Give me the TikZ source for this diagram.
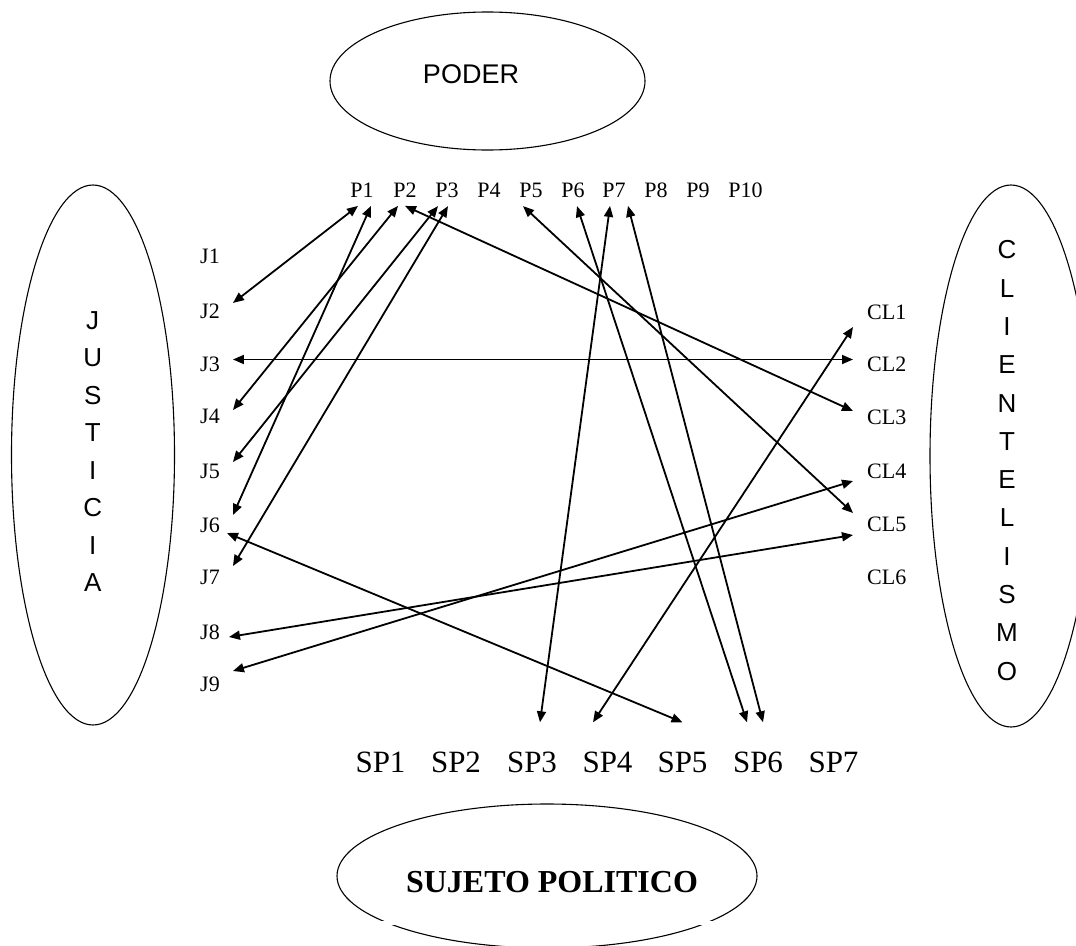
\documentclass[tikz,border=0pt]{standalone}
\usepackage{fontspec}
\setmainfont{Liberation Serif}
\newfontfamily\arialf{Liberation Sans}
\usetikzlibrary{shapes.geometric,arrows.meta}
\begin{document}
\begin{tikzpicture}[x=1pt,y=-1pt,
  ell/.style={draw, ellipse, line width=1.1pt, inner sep=0pt},
  lbl/.style={inner sep=0pt, font=\fontsize{22}{26}\selectfont},
  splbl/.style={inner sep=0pt, font=\fontsize{31}{36}\selectfont},
  vert/.style={inner sep=0pt, align=center},
  arr/.style={{Triangle[length=11pt,width=9pt]}-{Triangle[length=11pt,width=9pt]}, line width=1.8pt},
]
\useasboundingbox (0,0) rectangle (1076,945);
\clip (0,0) rectangle (1076,945);

% ellipses
\node[ell, minimum width=315pt, minimum height=138pt] (poder) at (487.5,81) {};
\node[ell, minimum width=163pt, minimum height=540pt] (just) at (93,455) {};
\node[ell, minimum width=162pt, minimum height=542pt] (clien) at (1011,456) {};
\node[ell, minimum width=420pt, minimum height=144pt] (sujeto) at (547,876) {};
\fill[white] (375,920.5) rectangle (730,924.5);

% titles
\node[inner sep=0pt, font=\arialf\fontsize{27}{30}\selectfont] (podert) at (471,74.5) {PODER};
\node[vert, font=\arialf\fontsize{26}{37.5}\selectfont] (justt) at (92.7,451.5) {J\\U\\S\\T\\I\\C\\I\\A};
\node[vert, font=\arialf\fontsize{26}{38.3}\selectfont] (client) at (1007,460.5) {C\\L\\I\\E\\N\\T\\E\\L\\I\\S\\M\\O};
\node[inner sep=0pt, font=\bfseries\fontsize{32}{36}\selectfont] (sujt) at (552,882) {SUJETO POLITICO};

% labels
\foreach \n/\xx in {1/362,2/405,3/447,4/489,5/531,6/573,7/614,8/656,9/698,10/745.5}
  \node[lbl, anchor=base] (P\n) at (\xx,197.7) {P\n};
\foreach \n/\yy in {1/256,2/311,3/364,4/416,5/471,6/525,7/577,8/632,9/684}
  \node[lbl, anchor=west] (J\n) at (200,\yy) {J\n};
\foreach \n/\yy in {1/312,2/364,3/417,4/471,5/524,6/577}
  \node[lbl, anchor=west] (CL\n) at (867,\yy) {CL\n};
\foreach \n/\xx in {1/380.5,2/456,3/532,4/607.5,5/682.5,6/758,7/833.5}
  \node[splbl, anchor=base] (SP\n) at (\xx,772) {SP\n};

% connectors
\draw[arr] ([xshift=-4pt,yshift=-8pt]P1.south) -- ([xshift=13pt,yshift=8pt]J2.east);
\draw[arr] ([xshift=9pt,yshift=-8pt]P1.south) -- ([xshift=13pt,yshift=10pt]J6.east);
\draw[arr] ([xshift=-7pt,yshift=-8pt]P2.south) -- ([xshift=13pt,yshift=6pt]J4.east);
\draw[arr] ([yshift=-8pt]P2.south) -- ([xshift=-14pt,yshift=6pt]CL3.west);
\draw[arr] ([xshift=-9pt,yshift=-8pt]P3.south) -- ([xshift=13pt,yshift=9pt]J5.east);
\draw[arr] ([xshift=1pt,yshift=-8pt]P3.south) -- ([xshift=13pt,yshift=11pt]J7.east);
\draw[arr] ([xshift=13pt,yshift=4.5pt]J3.east) -- ([xshift=-14pt,yshift=4.5pt]CL2.west);
\draw[arr] ([xshift=-8pt,yshift=-8pt]P5.south) -- ([xshift=-14pt,yshift=11pt]CL5.west);
\draw[arr] ([xshift=4pt,yshift=-8pt]P6.south) -- ([xshift=-11pt,yshift=29pt]SP6.north);
\draw[arr] ([xshift=-4pt,yshift=-8pt]P7.south) -- ([xshift=8pt,yshift=29pt]SP3.north);
\draw[arr] ([xshift=14pt,yshift=-8pt]P7.south) -- ([xshift=5pt,yshift=29pt]SP6.north);
\draw[arr] ([xshift=-14pt,yshift=-15pt]CL1.west) -- ([xshift=-14.5pt,yshift=29pt]SP4.north);
\draw[arr] ([xshift=-14pt,yshift=-10pt]CL4.west) -- ([xshift=13pt,yshift=13pt]J9.east);
\draw[arr] ([xshift=-14pt,yshift=-11pt]CL5.west) -- ([xshift=9pt,yshift=-5pt]J8.east);
\draw[arr] ([xshift=7pt,yshift=-8pt]J6.east) -- ([yshift=29pt]SP5.north);
\end{tikzpicture}
\end{document}
